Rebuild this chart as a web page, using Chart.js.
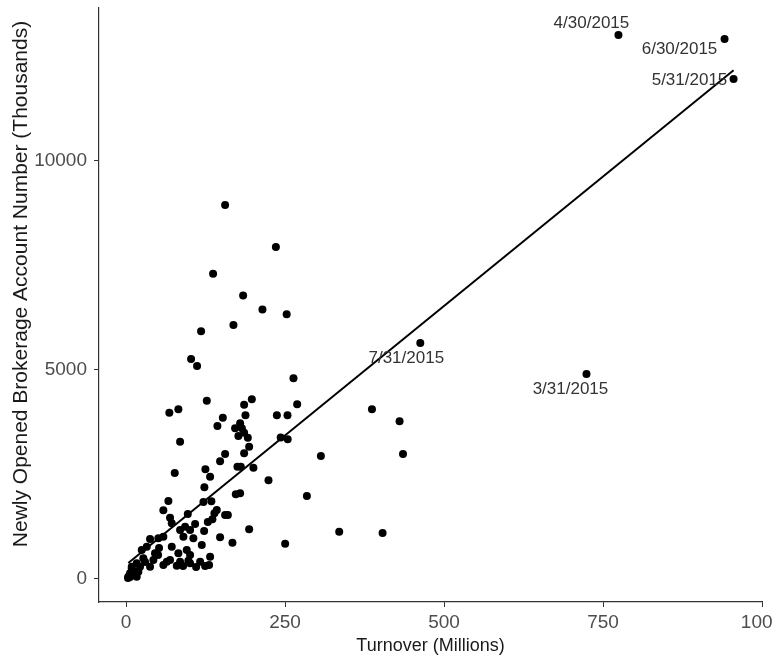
<!DOCTYPE html>
<html><head><meta charset="utf-8">
<script src="https://cdn.jsdelivr.net/npm/chart.js@4.4.1/dist/chart.umd.min.js"></script>
<style>
html,body{margin:0;padding:0;background:#fff;overflow:hidden}
#wrap{width:772px;height:660px;overflow:hidden;position:relative;background:#fff}
canvas{display:block}
</style></head><body>
<div id="wrap"><canvas id="c" width="800" height="660"></canvas></div>
<script>
// Turnover (Millions)
const turnover = [
155.8,235.6,136.9,184.1,214.5,252.6,168.9,118,102.3,111.7,
263.3,127,68.1,82.3,197.8,185.7,269.1,152.2,187.8,237.2,
253.9,143.7,179.4,171.5,182.1,176.7,185.7,191.5,85,243.2,
254.2,193.6,185.7,155.8,147.9,175.2,180.5,200.3,76.6,124.8,
132.2,224,123.2,172.6,179.4,66.6,121.7,134.2,58.7,142.7,
139,97.1,155.8,160.1,69.2,135.8,128.6,108.6,92.9,85,
100.7,193.6,122.8,71.9,147.9,167.3,250.2,119.1,105.9,90.2,
58.7,37.8,50.8,32.6,71.9,95.5,24.7,45.6,82.3,100.7,
132.2,27.2,43,64.1,85,98,116.5,16.8,58.7,79.8,
100.7,130.6,37.8,9,6.3,3.6,11.5,19.4,9,22,
16.8,386.7,430.1,435.5,306.4,284.4,335.2,403.4,
774.3,941.1,955.3,462.7,724,
3.1,6.3,12.6,29.9,50.4,69.2,89.7,110.2,124.3,51.9
];
// Newly opened brokerage accounts (Thousands)
const accounts = [
8939,7935,7297,6780,6441,6326,6071,5922,5258,5091,
4799,4261,3975,4056,4295,4166,4175,3855,3912,3912,
3912,3657,3721,3602,3602,3418,3497,3377,3281,3382,
3341,3162,3004,2988,2813,2684,2684,2660,2533,2622,
2445,2359,2192,2024,2048,1864,1840,1857,1642,1649,
1570,1554,1530,1530,1465,1427,1362,1315,1250,1171,
1171,1188,1147,1331,997,868,844,813,973,1011,
1011,956,973,772,772,693,693,614,614,574,
533,495,454,413,413,437,413,375,335,318,
375,335,294,256,136,55,96,174,294,294,
55,4056,3769,2988,2940,1984,1130,1099,
13002,12906,11950,5641,4900,
24,48,167,406,574,454,311,287,311,741
];
// fitted line end points
const fitX = [3.6, 955.3];
const fitY = [380, 12160];
const xTicks = [0, 250, 500, 750, 1000];
const yTicks = [0, 5000, 10000];
const labelText = ['4/30/2015','6/30/2015','5/31/2015','7/31/2015','3/31/2015'];
const labelX = [731.8, 870.3, 886, 440.7, 698.8];
const labelY = [13289, 12667, 11926, 5282, 4541];
const yTitle = 'Newly Opened Brokerage Account Number (Thousands)';
const xTitle = 'Turnover (Millions)';

const FONT = '"Liberation Sans", Arial, sans-serif';

const labelPlugin = {
  id: 'pointLabels',
  afterDatasetsDraw(chart) {
    const {ctx, scales: {x, y}} = chart;
    ctx.save();
    ctx.font = '17px ' + FONT;
    ctx.fillStyle = '#333';
    ctx.textAlign = 'center';
    ctx.textBaseline = 'middle';
    labelText.forEach((t, i) => {
      ctx.fillText(t, x.getPixelForValue(labelX[i]), y.getPixelForValue(labelY[i]));
    });
    ctx.restore();
  },
  afterDraw(chart) {
    const {ctx} = chart;
    ctx.save();
    ctx.font = '21px ' + FONT;
    ctx.fillStyle = '#1a1a1a';
    ctx.textAlign = 'center';
    ctx.textBaseline = 'middle';
    ctx.translate(21, 284);
    ctx.rotate(-Math.PI / 2);
    ctx.fillText(yTitle, 0, 0);
    ctx.restore();
  }
};

const pts = turnover.map((v, i) => ({x: v, y: accounts[i]}));
const linePts = fitX.map((v, i) => ({x: v, y: fitY[i]}));

new Chart(document.getElementById('c'), {
  type: 'scatter',
  data: {
    datasets: [
      {type: 'line', data: linePts, borderColor: '#000', borderWidth: 2, pointRadius: 0, fill: false, tension: 0},
      {data: pts, backgroundColor: '#000', borderWidth: 0, pointRadius: 4, pointHoverRadius: 4}
    ]
  },
  options: {
    responsive: false,
    animation: false,
    events: [],
    devicePixelRatio: 1,
    layout: {padding: {top: 8, right: 38, left: 0, bottom: 0}},
    plugins: {legend: {display: false}, tooltip: {enabled: false}},
    scales: {
      x: {
        type: 'linear', min: -42.5, max: 1000,
        afterBuildTicks: s => { s.ticks = xTicks.map(v => ({value: v})); },
        afterFit: s => { s.height = 58; s.paddingLeft = 0; s.paddingRight = 0; },
        grid: {drawOnChartArea: false, drawTicks: true, tickLength: 5, tickColor: '#333', tickWidth: 1},
        border: {display: true, color: '#333', width: 1.2},
        ticks: {color: '#4d4d4d', font: {size: 19, family: FONT}, padding: 4, maxRotation: 0, autoSkip: false,
                callback: v => String(v)},
        title: {display: true, text: xTitle, color: '#1a1a1a', font: {size: 18, family: FONT}, padding: {top: 0, bottom: 3}}
      },
      y: {
        type: 'linear', min: -550, max: 13650,
        afterBuildTicks: s => { s.ticks = yTicks.map(v => ({value: v})); },
        afterFit: s => { s.width = 99; s.paddingTop = 0; s.paddingBottom = 0; },
        grid: {drawOnChartArea: false, drawTicks: true, tickLength: 5, tickColor: '#333', tickWidth: 1},
        border: {display: true, color: '#333', width: 1.2},
        ticks: {color: '#4d4d4d', font: {size: 19, family: FONT}, padding: 7, autoSkip: false,
                callback: v => String(v)},
        title: {display: false}
      }
    }
  },
  plugins: [labelPlugin]
});
</script>
</body></html>
